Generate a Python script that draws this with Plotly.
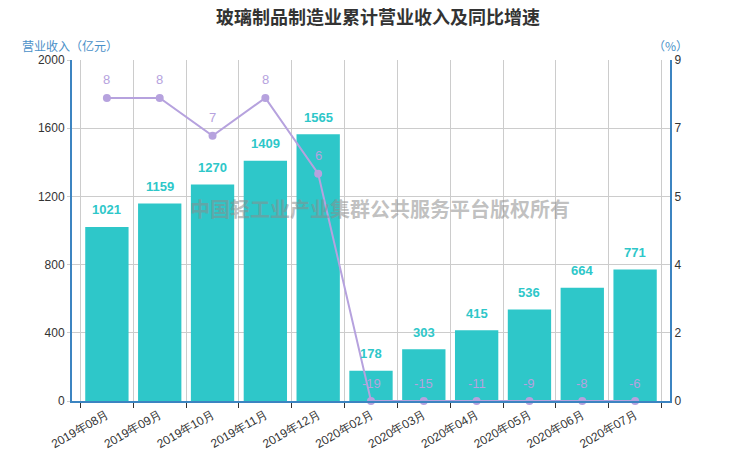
import plotly.graph_objects as go

# 月份
months = ['2019年08月', '2019年09月', '2019年10月', '2019年11月', '2019年12月',
          '2020年02月', '2020年03月', '2020年04月', '2020年05月', '2020年06月', '2020年07月']
# 累计营业收入(亿元)
revenue = [1021, 1159, 1270, 1409, 1565, 178, 303, 415, 536, 664, 771]
# 同比增速(%)
growth = [8, 8, 7, 8, 6, -19, -15, -11, -9, -8, -6]

# 右轴刻度(与左轴网格对齐)
y2_tickvals = [0, 1.8, 3.6, 5.4, 7.2, 9]
y2_ticktext = ['0', '2', '4', '5', '7', '9']

bar_color = '#2ec7c9'
line_color = '#b6a2de'
axis_color = '#3c84c1'
label_font = 'Liberation Sans, Arial, sans-serif'
cjk_font = 'Noto Sans CJK SC, sans-serif'

# 右轴最小值为0, 负值画在0处
growth_plot = [max(v, 0) for v in growth]

fig = go.Figure()

fig.add_trace(go.Bar(
    x=months,
    y=revenue,
    marker={'color': bar_color, 'line': {'width': 0}},
    name='营业收入',
    yaxis='y',
))

fig.add_trace(go.Scatter(
    x=months,
    y=growth_plot,
    mode='lines+markers',
    line={'color': line_color, 'width': 2},
    marker={'color': line_color, 'size': 8},
    name='同比增速',
    yaxis='y2',
    cliponaxis=False,
))

annotations = []
# 柱子数值
for m, v in zip(months, revenue):
    annotations.append(dict(
        x=m, y=v, xref='x', yref='y', text=str(v), showarrow=False,
        yshift=17, font={'family': label_font, 'size': 13, 'color': bar_color, 'weight': 'bold'},
    ))
# 折线数值
for m, v, p in zip(months, growth, growth_plot):
    annotations.append(dict(
        x=m, y=p, xref='x', yref='y2', text=str(v), showarrow=False,
        yshift=18, font={'family': label_font, 'size': 13, 'color': line_color},
    ))

# 坐标轴标题
annotations.append(dict(
    x=-0.003, y=1.042, xref='paper', yref='paper', text='营业收入（亿元）',
    showarrow=False, xanchor='center', yanchor='middle',
    font={'family': cjk_font, 'size': 12, 'color': '#4a90c8'},
))
annotations.append(dict(
    x=1.0, y=1.042, xref='paper', yref='paper', text='（%）',
    showarrow=False, xanchor='center', yanchor='middle',
    font={'family': cjk_font, 'size': 12, 'color': '#4a90c8'},
))
# 水印
annotations.append(dict(
    x=0.515, y=0.565, xref='paper', yref='paper', text='中国轻工业产业集群公共服务平台版权所有',
    showarrow=False, xanchor='center', yanchor='middle',
    font={'family': cjk_font, 'size': 20, 'color': 'rgba(140,140,140,0.55)', 'weight': 'bold'},
))

fig.update_layout(
    width=740,
    height=462,
    margin={'l': 64, 'r': 78, 't': 52, 'b': 69},
    title={'text': '玻璃制品制造业累计营业收入及同比增速', 'x': 0.5, 'xanchor': 'center',
           'y': 0.98, 'yanchor': 'middle',
           'font': {'family': cjk_font, 'size': 18, 'color': '#333333', 'weight': 'bold'}},
    plot_bgcolor='white',
    paper_bgcolor='white',
    showlegend=False,
    bargap=0.18,
    annotations=annotations,
    xaxis={
        'type': 'category',
        'tickson': 'boundaries',
        'automargin': False,
        'showgrid': True, 'gridcolor': '#cccccc',
        'showline': True, 'linecolor': axis_color, 'linewidth': 2,
        'ticks': 'outside', 'ticklen': 5, 'tickcolor': '#333333',
        'tickangle': -30,
        'tickfont': {'family': label_font, 'size': 12, 'color': '#333333'},
    },
    yaxis={
        'range': [0, 2000], 'dtick': 400,
        'automargin': False,
        'showgrid': True, 'gridcolor': '#cccccc', 'zeroline': False,
        'showline': True, 'linecolor': axis_color, 'linewidth': 2,
        'ticks': 'outside', 'ticklen': 3, 'tickcolor': '#cccccc',
        'tickfont': {'family': label_font, 'size': 12, 'color': '#333333'},
    },
    yaxis2={
        'range': [0, 9], 'overlaying': 'y', 'side': 'right',
        'automargin': False,
        'tickmode': 'array', 'tickvals': y2_tickvals, 'ticktext': y2_ticktext,
        'showgrid': False, 'zeroline': False,
        'showline': True, 'linecolor': axis_color, 'linewidth': 2,
        'tickfont': {'family': label_font, 'size': 12, 'color': '#333333'},
    },
)

fig.write_html('out.html')
